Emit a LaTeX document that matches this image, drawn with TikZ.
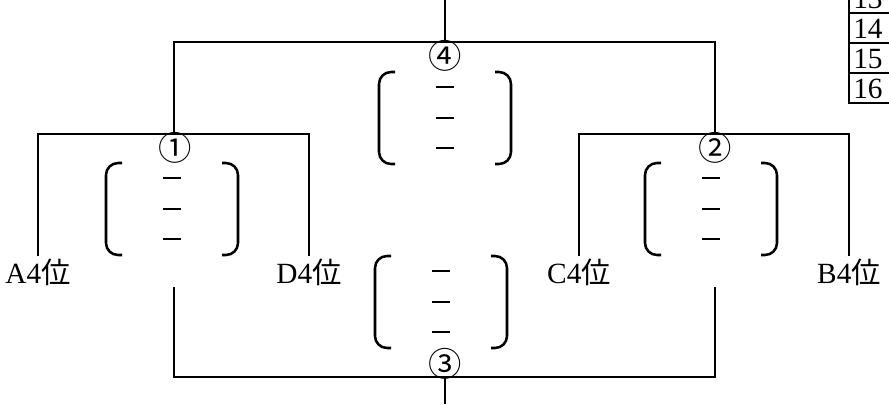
\documentclass[tikz,border=0pt]{standalone}
\usepackage{fontspec}
\setmainfont{Liberation Serif}
\newfontfamily\cjk{Noto Sans CJK JP}
\usetikzlibrary{math}

\tikzset{
  wire/.style={line width=2.1pt},
  paren/.style={line width=1.9pt, rounded corners=9pt},
  blank/.style={line width=2pt},
  seat/.style={inner sep=2pt, font=\fontsize{22}{22}\selectfont},
  num/.style={inner sep=0pt, font=\cjk\fontsize{25}{25}\selectfont},
  cell/.style={inner sep=0pt, anchor=west, font=\fontsize{22}{22}\selectfont}
}

\begin{document}
\begin{tikzpicture}[x=0.75pt,y=-0.75pt]
\tikzmath{
\w=66;
\h=92;
\d=16;
}
\useasboundingbox (0,0) rectangle (889,404);

% upper half
\coordinate (root) at (445,0);
\coordinate (T) at (445,42);
\coordinate (topL) at (174,42);
\coordinate (topR) at (715,42);
\coordinate (grpL) at (174,134);
\coordinate (grpR) at (715,134);
\coordinate (aTop) at (38,134);
\coordinate (dTop) at (309,134);
\coordinate (cTop) at (579,134);
\coordinate (bTop) at (849,134);

\node[seat] (A) at (38,272) {A4{\cjk 位}};
\node[seat] (D) at (309,272) {D4{\cjk 位}};
\node[seat] (C) at (579,272) {C4{\cjk 位}};
\node[seat] (B) at (849,272) {B4{\cjk 位}};

\draw[wire] (root) -- (T);
\draw[wire] (grpL) -- (topL) -- (topR) -- (grpR);
\draw[wire] (A) -- (aTop) -- (dTop) -- (D);
\draw[wire] (C) -- (cTop) -- (bTop) -- (B);

\node[num] (n4) at (445,56) {④};
\node[num] (n1) at (175,148) {①};
\node[num] (n2) at (715,148) {②};

% lower half
\coordinate (lowL) at (174,287);
\coordinate (lowR) at (715,287);
\coordinate (baseL) at (174,377);
\coordinate (baseR) at (715,377);
\coordinate (B3) at (445,377);
\coordinate (stem) at (445,404);
\draw[wire] (lowL) -- (baseL) -- (baseR) -- (lowR);
\draw[wire] (B3) -- (stem);
\node[num] (n3) at (445,364) {③};

% answer brackets
\begin{scope}[shift={(445,72)}]
\draw[paren] (-\w+\d,0) -- (-\w,0) -- (-\w,\h) -- (-\w+\d,\h);
\draw[paren] (\w-\d,0) -- (\w,0) -- (\w,\h) -- (\w-\d,\h);
\draw[blank] (-9,15) -- (9,15) (-9,46) -- (9,46) (-9,76) -- (9,76);
\end{scope}

\begin{scope}[shift={(172,163)}]
\draw[paren] (-\w+\d,0) -- (-\w,0) -- (-\w,\h) -- (-\w+\d,\h);
\draw[paren] (\w-\d,0) -- (\w,0) -- (\w,\h) -- (\w-\d,\h);
\draw[blank] (-9,15) -- (9,15) (-9,46) -- (9,46) (-9,76) -- (9,76);
\end{scope}

\begin{scope}[shift={(711,163)}]
\draw[paren] (-\w+\d,0) -- (-\w,0) -- (-\w,\h) -- (-\w+\d,\h);
\draw[paren] (\w-\d,0) -- (\w,0) -- (\w,\h) -- (\w-\d,\h);
\draw[blank] (-9,15) -- (9,15) (-9,46) -- (9,46) (-9,76) -- (9,76);
\end{scope}

\begin{scope}[shift={(441,256)}]
\draw[paren] (-\w+\d,0) -- (-\w,0) -- (-\w,\h) -- (-\w+\d,\h);
\draw[paren] (\w-\d,0) -- (\w,0) -- (\w,\h) -- (\w-\d,\h);
\draw[blank] (-9,15) -- (9,15) (-9,46) -- (9,46) (-9,76) -- (9,76);
\end{scope}

% table, cut at the right edge
\draw[wire] (900,-20) -- (849,-20) -- (849,103) -- (900,103);
\draw[line width=1.6pt] (849,13) -- (900,13) (849,43) -- (900,43) (849,73) -- (900,73);
\node[cell] (c13) at (853,-1) {13};
\node[cell] (c14) at (853,29) {14};
\node[cell] (c15) at (853,59) {15};
\node[cell] (c16) at (853,89) {16};
\end{tikzpicture}
\end{document}
